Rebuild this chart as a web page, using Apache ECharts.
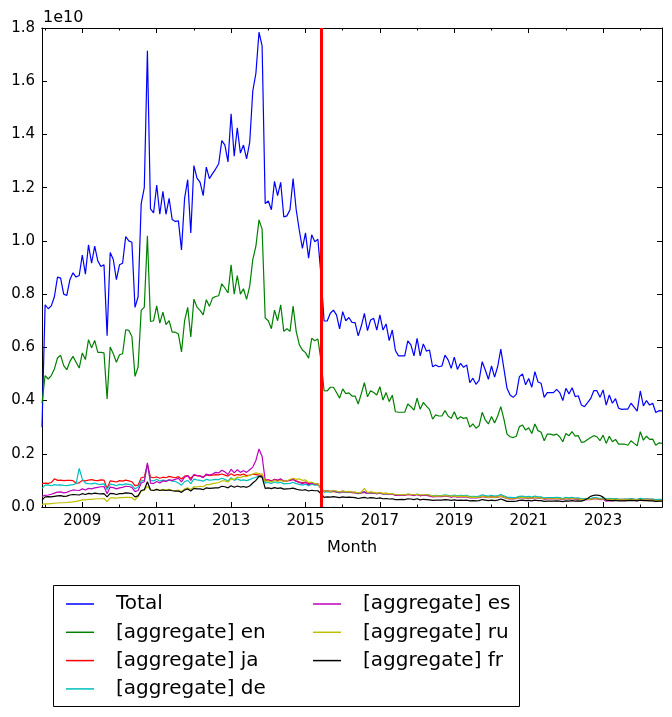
<!DOCTYPE html>
<html><head><meta charset="utf-8">
<script src="https://cdn.jsdelivr.net/npm/echarts@6/dist/echarts.min.js"></script>
<style>html,body{margin:0;padding:0;background:#fff}#c{width:672px;height:717px}</style>
</head><body><div id="c"></div>
<script>
// Monthly series, first month 2007-12; values in units of 1e10
const startYear = 2007, startMonth = 12;
const total = [0.30,0.76,0.745,0.756,0.79,0.864,0.86,0.80,0.795,0.854,0.88,0.864,0.87,
0.947,0.875,0.985,0.916,0.98,0.925,0.904,0.91,0.644,0.956,0.93,0.854,
0.91,0.916,1.016,1.0,0.995,0.75,0.79,1.14,1.20,1.714,1.12,1.105,
1.21,1.10,1.186,1.10,1.16,1.08,1.073,1.075,0.966,1.16,1.23,1.03,
1.283,1.236,1.22,1.17,1.277,1.234,1.253,1.27,1.29,1.377,1.36,1.297,
1.478,1.318,1.425,1.33,1.36,1.308,1.37,1.564,1.63,1.784,1.733,1.14,
1.15,1.117,1.224,1.17,1.22,1.09,1.094,1.117,1.234,1.117,1.04,0.972,
1.03,0.935,1.023,0.997,1.006,0.87,0.699,0.699,0.728,0.74,0.722,0.669,
0.734,0.70,0.712,0.694,0.693,0.643,0.68,0.728,0.663,0.703,0.709,0.665,
0.722,0.665,0.688,0.625,0.665,0.588,0.568,0.568,0.568,0.624,0.609,0.568,
0.634,0.568,0.613,0.586,0.59,0.527,0.534,0.527,0.53,0.571,0.553,0.521,
0.563,0.517,0.54,0.525,0.534,0.467,0.484,0.461,0.476,0.546,0.515,0.48,
0.53,0.488,0.528,0.593,0.52,0.446,0.421,0.412,0.423,0.49,0.50,0.459,
0.483,0.45,0.509,0.47,0.465,0.412,0.43,0.43,0.43,0.442,0.43,0.40,
0.446,0.425,0.448,0.415,0.418,0.383,0.377,0.392,0.408,0.437,0.437,0.412,
0.44,0.383,0.421,0.39,0.407,0.371,0.367,0.368,0.368,0.39,0.375,0.36,
0.436,0.38,0.40,0.383,0.39,0.355,0.362,0.361];
const en = [0.39,0.494,0.481,0.494,0.519,0.56,0.57,0.531,0.516,0.547,0.566,0.544,0.522,
0.579,0.554,0.629,0.598,0.626,0.581,0.581,0.579,0.406,0.601,0.576,0.544,
0.572,0.576,0.666,0.664,0.641,0.491,0.526,0.739,0.751,1.019,0.697,0.70,
0.756,0.691,0.732,0.685,0.70,0.657,0.657,0.65,0.583,0.70,0.75,0.639,
0.781,0.751,0.739,0.722,0.779,0.754,0.785,0.791,0.794,0.839,0.823,0.804,
0.91,0.80,0.87,0.80,0.82,0.78,0.83,0.93,0.98,1.079,1.044,0.71,
0.70,0.67,0.74,0.70,0.76,0.66,0.67,0.66,0.755,0.66,0.61,0.59,
0.58,0.559,0.634,0.625,0.631,0.55,0.437,0.436,0.45,0.45,0.43,0.409,
0.444,0.426,0.429,0.417,0.417,0.387,0.426,0.467,0.414,0.437,0.43,0.421,
0.452,0.402,0.43,0.396,0.42,0.358,0.356,0.356,0.356,0.387,0.377,0.364,
0.409,0.367,0.393,0.379,0.367,0.33,0.346,0.342,0.342,0.362,0.342,0.333,
0.358,0.33,0.339,0.333,0.336,0.30,0.312,0.296,0.305,0.356,0.327,0.312,
0.340,0.316,0.342,0.377,0.33,0.274,0.264,0.261,0.266,0.302,0.308,0.289,
0.298,0.276,0.312,0.287,0.281,0.249,0.274,0.274,0.27,0.274,0.264,0.245,
0.276,0.268,0.283,0.266,0.268,0.243,0.245,0.254,0.261,0.268,0.264,0.249,
0.27,0.239,0.266,0.245,0.254,0.236,0.236,0.236,0.232,0.249,0.239,0.23,
0.283,0.251,0.266,0.254,0.255,0.232,0.241,0.239];
const ja = [0.088,0.090,0.089,0.092,0.106,0.100,0.101,0.099,0.100,0.100,0.099,0.090,0.091,
0.100,0.098,0.101,0.103,0.100,0.099,0.102,0.101,0.070,0.098,0.096,0.094,
0.099,0.097,0.101,0.098,0.095,0.080,0.082,0.110,0.112,0.160,0.112,0.110,
0.113,0.108,0.112,0.110,0.115,0.112,0.110,0.114,0.105,0.116,0.118,0.108,
0.120,0.118,0.117,0.112,0.121,0.118,0.120,0.122,0.121,0.124,0.120,0.116,
0.125,0.118,0.122,0.120,0.124,0.118,0.120,0.123,0.122,0.120,0.118,0.100,
0.102,0.098,0.104,0.100,0.103,0.097,0.098,0.100,0.104,0.098,0.094,0.092,
0.094,0.088,0.090,0.086,0.085,0.070,
0.058,0.060,0.057,0.059,0.056,0.054,0.057,0.055,0.056,0.054,0.053,0.050,
0.053,0.055,0.051,0.053,0.052,0.050,0.052,0.049,0.050,0.047,0.048,0.045,
0.044,0.045,0.044,0.047,0.046,0.044,0.047,0.043,0.045,0.044,0.043,0.040,
0.041,0.040,0.040,0.042,0.041,0.039,0.041,0.039,0.040,0.039,0.040,0.036,
0.037,0.036,0.037,0.041,0.039,0.037,0.039,0.037,0.039,0.042,0.038,0.034,
0.033,0.032,0.033,0.036,0.037,0.035,0.036,0.034,0.037,0.035,0.035,0.032,
0.033,0.033,0.033,0.034,0.033,0.031,0.034,0.032,0.034,0.032,0.032,0.030,
0.030,0.031,0.031,0.033,0.033,0.031,0.033,0.030,0.032,0.030,0.031,0.029,
0.029,0.029,0.029,0.030,0.029,0.028,0.031,0.029,0.030,0.029,0.029,0.027,
0.028,0.028];
const de = [0.070,0.082,0.083,0.080,0.084,0.082,0.083,0.081,0.080,0.082,0.084,0.088,0.145,
0.105,0.090,0.088,0.087,0.090,0.086,0.085,0.087,0.066,0.086,0.084,0.080,
0.085,0.083,0.087,0.085,0.082,0.068,0.075,0.098,0.100,0.158,0.100,0.098,
0.104,0.097,0.101,0.098,0.102,0.097,0.096,0.090,0.082,0.095,0.100,0.088,
0.105,0.102,0.100,0.097,0.104,0.101,0.102,0.104,0.103,0.108,0.104,0.098,
0.110,0.100,0.106,0.100,0.102,0.099,0.103,0.108,0.112,0.116,0.114,0.090,
0.092,0.088,0.094,0.090,0.093,0.087,0.088,0.089,0.093,0.088,0.085,0.082,
0.086,0.080,0.086,0.082,0.083,0.072,
0.056,0.058,0.057,0.060,0.056,0.053,0.058,0.055,0.057,0.055,0.054,0.050,
0.054,0.056,0.051,0.054,0.052,0.050,0.053,0.049,0.050,0.047,0.049,0.045,
0.045,0.046,0.045,0.048,0.047,0.045,0.049,0.044,0.047,0.046,0.045,0.042,
0.044,0.043,0.043,0.046,0.044,0.042,0.045,0.042,0.044,0.043,0.044,0.039,
0.040,0.039,0.041,0.046,0.043,0.041,0.044,0.041,0.043,0.047,0.042,0.037,
0.036,0.035,0.036,0.040,0.041,0.038,0.040,0.037,0.041,0.038,0.038,0.034,
0.035,0.035,0.035,0.036,0.035,0.032,0.036,0.034,0.036,0.033,0.034,0.031,
0.031,0.032,0.032,0.035,0.034,0.032,0.034,0.031,0.033,0.031,0.032,0.030,
0.029,0.030,0.030,0.032,0.030,0.029,0.033,0.030,0.031,0.030,0.030,0.028,
0.029,0.029];
const es = [0.040,0.044,0.045,0.048,0.052,0.056,0.057,0.053,0.055,0.060,0.064,0.063,0.062,
0.068,0.064,0.070,0.068,0.072,0.074,0.076,0.077,0.050,0.075,0.073,0.068,
0.072,0.074,0.078,0.077,0.074,0.058,0.062,0.090,0.095,0.166,0.090,0.088,
0.096,0.090,0.098,0.096,0.102,0.100,0.104,0.108,0.094,0.112,0.118,0.100,
0.122,0.118,0.116,0.110,0.124,0.120,0.124,0.130,0.128,0.138,0.132,0.122,
0.142,0.128,0.140,0.130,0.136,0.130,0.140,0.150,0.175,0.218,0.190,0.100,
0.102,0.096,0.104,0.100,0.106,0.096,0.098,0.100,0.104,0.096,0.092,0.088,
0.092,0.084,0.090,0.086,0.088,0.070,
0.060,0.062,0.059,0.061,0.058,0.055,0.060,0.057,0.058,0.056,0.055,0.051,
0.055,0.057,0.052,0.055,0.053,0.050,0.054,0.049,0.051,0.047,0.048,0.044,
0.044,0.045,0.044,0.047,0.046,0.043,0.047,0.042,0.045,0.044,0.042,0.038,
0.039,0.039,0.039,0.041,0.040,0.037,0.040,0.037,0.039,0.038,0.039,0.034,
0.035,0.034,0.035,0.039,0.037,0.035,0.037,0.035,0.037,0.040,0.036,0.031,
0.030,0.030,0.031,0.034,0.035,0.033,0.034,0.032,0.035,0.033,0.033,0.029,
0.030,0.030,0.030,0.031,0.030,0.028,0.031,0.029,0.031,0.029,0.029,0.027,
0.027,0.028,0.028,0.030,0.030,0.028,0.029,0.022,0.024,0.023,0.026,0.025,
0.025,0.025,0.025,0.026,0.025,0.024,0.027,0.025,0.026,0.025,0.025,0.023,
0.024,0.024];
const ru = [0.010,0.012,0.012,0.013,0.014,0.015,0.016,0.016,0.017,0.018,0.019,0.021,0.024,
0.027,0.027,0.029,0.029,0.030,0.031,0.031,0.032,0.020,0.034,0.034,0.033,
0.035,0.035,0.036,0.036,0.035,0.026,0.040,0.060,0.062,0.078,0.064,0.062,
0.066,0.063,0.066,0.064,0.066,0.063,0.062,0.064,0.058,0.068,0.072,0.066,
0.076,0.076,0.078,0.076,0.084,0.084,0.088,0.090,0.092,0.098,0.098,0.094,
0.106,0.104,0.112,0.110,0.116,0.114,0.120,0.124,0.128,0.126,0.124,0.096,
0.098,0.094,0.100,0.096,0.100,0.096,0.098,0.104,0.108,0.104,0.106,0.100,
0.102,0.092,0.094,0.088,0.087,0.072,
0.060,0.061,0.059,0.062,0.060,0.057,0.060,0.058,0.059,0.057,0.056,0.053,
0.056,0.070,0.054,0.057,0.055,0.052,0.055,0.051,0.052,0.049,0.050,0.047,
0.046,0.047,0.046,0.049,0.048,0.046,0.048,0.045,0.047,0.046,0.045,0.041,
0.042,0.041,0.042,0.043,0.042,0.040,0.042,0.039,0.041,0.040,0.041,0.036,
0.037,0.036,0.037,0.040,0.038,0.036,0.038,0.036,0.038,0.041,0.037,0.032,
0.031,0.031,0.032,0.035,0.036,0.034,0.035,0.033,0.036,0.034,0.034,0.030,
0.031,0.031,0.031,0.032,0.031,0.029,0.032,0.030,0.032,0.030,0.030,0.028,
0.028,0.029,0.029,0.031,0.031,0.029,0.031,0.028,0.030,0.028,0.029,0.027,
0.027,0.027,0.027,0.028,0.027,0.026,0.028,0.026,0.027,0.026,0.026,0.024,
0.025,0.025];
const fr = [0.026,0.038,0.039,0.038,0.040,0.042,0.043,0.040,0.041,0.045,0.047,0.046,0.045,
0.050,0.047,0.051,0.049,0.052,0.050,0.049,0.050,0.038,0.051,0.050,0.047,
0.050,0.050,0.053,0.052,0.050,0.038,0.042,0.062,0.065,0.095,0.064,0.062,
0.066,0.062,0.064,0.062,0.064,0.061,0.060,0.060,0.055,0.064,0.068,0.060,
0.070,0.068,0.068,0.065,0.072,0.070,0.071,0.072,0.072,0.078,0.076,0.072,
0.080,0.074,0.079,0.075,0.077,0.074,0.079,0.090,0.100,0.115,0.112,0.070,
0.072,0.069,0.073,0.070,0.072,0.067,0.068,0.069,0.071,0.067,0.064,0.063,
0.065,0.060,0.063,0.061,0.061,0.050,
0.036,0.038,0.037,0.039,0.037,0.035,0.038,0.036,0.037,0.036,0.035,0.032,
0.034,0.036,0.033,0.035,0.034,0.032,0.034,0.031,0.032,0.030,0.031,0.028,
0.028,0.029,0.028,0.031,0.030,0.028,0.031,0.027,0.029,0.028,0.027,0.025,
0.026,0.026,0.026,0.028,0.027,0.025,0.027,0.025,0.026,0.025,0.026,0.023,
0.024,0.023,0.024,0.028,0.026,0.024,0.026,0.024,0.026,0.030,0.026,0.021,
0.021,0.021,0.022,0.025,0.026,0.024,0.025,0.023,0.026,0.024,0.024,0.021,
0.022,0.022,0.022,0.023,0.022,0.020,0.023,0.022,0.024,0.022,0.023,0.022,
0.026,0.032,0.040,0.044,0.045,0.043,0.037,0.026,0.025,0.024,0.025,0.023,
0.023,0.023,0.024,0.025,0.024,0.023,0.026,0.024,0.024,0.023,0.023,0.021,
0.022,0.022];

const seriesNames = ['Total','[aggregate] en','[aggregate] ja','[aggregate] de','[aggregate] es','[aggregate] ru','[aggregate] fr'];
const seriesValues = [total, en, ja, de, es, ru, fr];
const seriesColors = ['#0000ff','#008000','#ff0000','#00bfbf','#bf00bf','#bfbf00','#000000'];
const majorYears = [2009,2011,2013,2015,2017,2019,2021,2023];
const minorYears = [2008,2010,2012,2014,2016,2018,2020,2022,2024];
const cutover = '2015-06';

const n = total.length;
const months = [];
for (let i = 0; i < n; i++) {
  const m0 = startMonth - 1 + i;
  months.push((startYear + Math.floor(m0 / 12)) + '-' + String(m0 % 12 + 1).padStart(2, '0'));
}
const toX = s => { const p = s.split('-').map(Number); return p[0] + (p[1] - 1) / 12; };
const xs = months.map(toX);
const xMin = xs[0], xMax = xs[n - 1];
const FONT = 'DejaVu Sans';

function xAxisDef(pos, vals, len, labels) {
  return {
    type: 'value', position: pos, min: xMin, max: xMax,
    axisLine: { show: true, onZero: false, lineStyle: { color: '#000', width: 1 } },
    axisTick: { show: true, inside: true, length: len, customValues: vals, lineStyle: { color: '#000', width: 1 } },
    axisLabel: labels ? { show: true, customValues: vals, formatter: v => String(Math.round(v)), color: '#000', fontSize: 15, fontFamily: FONT, margin: 7 } : { show: false },
    splitLine: { show: false },
    name: labels ? 'Month' : '', nameLocation: 'middle', nameGap: 33,
    nameTextStyle: { color: '#000', fontSize: 16, fontFamily: FONT }
  };
}
function yAxisDef(pos, labels) {
  return {
    type: 'value', position: pos, min: 0, max: 1.8, interval: 0.2,
    axisLine: { show: true, onZero: false, lineStyle: { color: '#000', width: 1 } },
    axisTick: { show: true, inside: true, length: 5, lineStyle: { color: '#000', width: 1 } },
    axisLabel: labels ? { show: true, formatter: v => v.toFixed(1), color: '#000', fontSize: 15, fontFamily: FONT, margin: 7 } : { show: false },
    splitLine: { show: false }
  };
}

const series = seriesNames.map((name, k) => ({
  name, type: 'line', xAxisIndex: 0, yAxisIndex: 0,
  data: seriesValues[k].map((v, i) => [xs[i], v]),
  showSymbol: false, symbol: 'none',
  lineStyle: { color: seriesColors[k], width: 1.2 },
  itemStyle: { color: seriesColors[k] },
  z: 2 + k
}));
series[series.length - 1].markLine = {
  silent: true, symbol: ['none', 'none'], label: { show: false },
  lineStyle: { color: '#ff0000', width: 3, type: 'solid' },
  data: [{ xAxis: toX(cutover) }], z: 20
};

const legendBase = {
  orient: 'vertical', itemWidth: 28, itemHeight: 1.5, icon: 'rect', itemGap: 8.3, padding: 0,
  textStyle: { fontSize: 20, fontFamily: FONT, color: '#000', padding: [0, 0, 0, 17], lineHeight: 20 }
};

const chart = echarts.init(document.getElementById('c'), null, { renderer: 'canvas' });
chart.setOption({
  animation: false,
  backgroundColor: '#fff',
  grid: { left: 42, right: 10, top: 28, bottom: 210, containLabel: false },
  xAxis: [
    xAxisDef('bottom', majorYears, 5, true),
    xAxisDef('top', majorYears, 5, false),
    xAxisDef('top', minorYears, 2.5, false),
    xAxisDef('bottom', minorYears, 2.5, false)
  ],
  yAxis: [yAxisDef('left', true), yAxisDef('right', false)],
  legend: [
    Object.assign({}, legendBase, { data: seriesNames.slice(0, 4), left: 66, top: 594 }),
    Object.assign({}, legendBase, { data: seriesNames.slice(4), left: 313, top: 594 })
  ],
  graphic: [
    { type: 'rect', shape: { x: 53.5, y: 585.5, width: 466, height: 121 }, style: { fill: 'none', stroke: '#000', lineWidth: 1 }, z: 0, silent: true },
    { type: 'text', left: 43, top: 10, style: { text: '1e10', fontSize: 16, fontFamily: FONT, fill: '#000' }, silent: true }
  ],
  series
});
</script></body></html>
